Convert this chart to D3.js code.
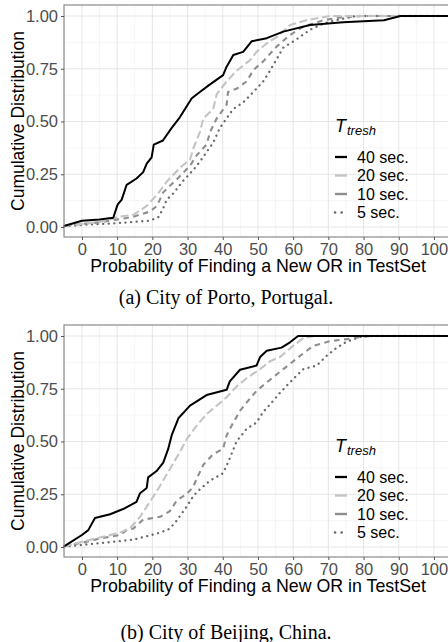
<!DOCTYPE html>
<html><head><meta charset="utf-8">
<script src="https://cdn.jsdelivr.net/npm/d3@7"></script>
<style>body{margin:0;background:#fff}svg{display:block}</style>
</head><body>
<script>
// ---- data ----
const seriesNames = ["40 sec.", "20 sec.", "10 sec.", "5 sec."];
const xTicks = [0,10,20,30,40,50,60,70,80,90,100];
const yTicks = [0,0.25,0.5,0.75,1];
const yTickLabels = ["0.00","0.25","0.50","0.75","1.00"];
const captions = ["(a) City of Porto, Portugal.", "(b) City of Beijing, China."];

// Porto
const porto40x = [-5.1,0,5,8.9,10,10.3,11.3,12.7,15.5,17.4,18.4,19.8,20.4,23,25.5,27.8,31.2,33.5,35.9,40.1,41.1,43,45.8,48.2,52.5,57.2,64.8,74.2,85.8,90.5,105];
const porto40p = [0.005,0.03,0.035,0.044,0.10,0.11,0.13,0.20,0.23,0.26,0.30,0.33,0.39,0.41,0.47,0.52,0.61,0.64,0.67,0.72,0.76,0.815,0.83,0.88,0.895,0.926,0.957,0.97,0.98,1.0,1.0];
const porto20x = [-5.1,0,5,10.8,14.6,18.4,21.7,24.1,27.8,30.7,31.6,33.5,34.5,37.3,38.3,41.1,43.9,47.7,49.6,52.5,55.3,59.1,63.8,70.5,105];
const porto20p = [0.005,0.015,0.024,0.049,0.057,0.10,0.16,0.215,0.28,0.32,0.37,0.45,0.515,0.56,0.63,0.69,0.74,0.79,0.83,0.87,0.90,0.957,0.98,1.0,1.0];
const porto10x = [-5.1,0,5,12.7,14.6,19.3,21.3,23.1,26.9,30.7,32.6,35.4,36.4,38.3,41.1,41.5,43.9,46.8,48.7,51.5,55.3,59.1,62.9,68.6,74.2,80,105];
const porto10p = [0.005,0.015,0.022,0.043,0.049,0.073,0.10,0.165,0.225,0.29,0.34,0.39,0.45,0.515,0.58,0.64,0.655,0.69,0.744,0.785,0.855,0.91,0.95,0.98,0.995,1.0,1.0];
const porto5x = [-5.1,0.3,9.9,19.3,21.7,23,24.1,26,28.8,31.6,33.5,35.4,37.3,39.2,41.1,43,45.8,48.7,51.5,53.4,57.2,61,64.8,68.8,72,78,105];
const porto5p = [0.003,0.01,0.018,0.03,0.047,0.085,0.13,0.16,0.22,0.27,0.31,0.355,0.40,0.47,0.515,0.56,0.59,0.64,0.69,0.74,0.85,0.89,0.935,0.965,0.98,1.0,1.0];

// Beijing
const beijing40x = [-5.1,0,1.8,3.7,8,11.7,15.5,16.5,18.4,18.8,21.2,23.1,24.5,25.5,27.4,30.7,35.4,41.1,42,44.9,49.6,50.6,52.5,56.7,59.1,61.4,105];
const beijing40p = [0.003,0.057,0.08,0.137,0.155,0.18,0.214,0.255,0.28,0.33,0.36,0.40,0.465,0.53,0.61,0.67,0.72,0.745,0.785,0.84,0.86,0.90,0.93,0.945,0.97,1.0,1.0];
const beijing20x = [-5.1,0,5.1,10.8,13.6,16.5,19.3,22.2,25,27.8,29.7,32.6,35.4,38.3,41.1,43.9,46.8,50.6,53.4,56.2,60,62.9,66,105];
const beijing20p = [0.003,0.025,0.045,0.068,0.088,0.143,0.214,0.29,0.37,0.45,0.51,0.575,0.63,0.67,0.71,0.76,0.80,0.843,0.88,0.90,0.953,0.99,1.0,1.0];
const beijing10x = [-5.1,0,5.1,10.8,12.7,14.6,17.4,22.2,25,26.9,29.7,31.6,32.6,34.5,37.3,40.1,41.1,43,44.9,46.8,49.6,52.5,57.2,61.9,65.7,70.5,75.2,79.2,82,105];
const beijing10p = [0.003,0.02,0.04,0.057,0.08,0.088,0.13,0.143,0.17,0.22,0.25,0.285,0.324,0.39,0.44,0.465,0.53,0.59,0.645,0.685,0.74,0.78,0.843,0.905,0.953,0.976,0.985,0.995,1.0,1.0];
const beijing5x = [-5.1,0,5.1,14.6,21.2,24.1,25,26.9,29.7,31.6,32.6,36.4,40.1,42,43.9,46.8,49.6,51.5,53.4,56.2,60,62.9,66.7,69.5,72.4,75.2,77.3,80,105];
const beijing5p = [0.002,0.01,0.018,0.035,0.063,0.08,0.088,0.125,0.19,0.24,0.26,0.315,0.35,0.42,0.50,0.56,0.59,0.64,0.675,0.73,0.796,0.843,0.86,0.906,0.945,0.973,0.985,1.0,1.0];

// ---- styles ----
const colors = ["#000000","#C4C4C4","#8E8E8E","#6A6A6A"];
const dashes = [null,"8,3.5","5.5,4.5","0.1,5.5"];
const widths = [2,2.1,2.1,2.3];
const caps = ["butt","butt","butt","round"];

const W = 448, H = 642;
const svg = d3.select("body").append("svg").attr("width",W).attr("height",H);
const SANS = "'Liberation Sans', Arial, sans-serif";

function panel(top, xs, ps, caption, capY){
  const left = 64, right = 452, bottom = top + 232;
  const x = d3.scaleLinear().domain([-5.1,105]).range([left, left + 110.1*3.52]);
  const y = d3.scaleLinear().domain([0,1]).range([top+222, top+11]);
  const g = svg.append("g");
  const xMinor = d3.range(-5,106,10), yMinor = d3.range(0.125,1.01,0.25);
  g.selectAll(null).data(xMinor).enter().append("line")
    .attr("x1",d=>x(d)).attr("x2",d=>x(d)).attr("y1",top).attr("y2",bottom)
    .attr("stroke","#F2F2F2").attr("stroke-width",0.8);
  g.selectAll(null).data(yMinor).enter().append("line")
    .attr("x1",left).attr("x2",right).attr("y1",d=>y(d)).attr("y2",d=>y(d))
    .attr("stroke","#F2F2F2").attr("stroke-width",0.8);
  g.selectAll(null).data(xTicks).enter().append("line")
    .attr("x1",d=>x(d)).attr("x2",d=>x(d)).attr("y1",top).attr("y2",bottom)
    .attr("stroke","#E6E6E6").attr("stroke-width",1);
  g.selectAll(null).data(yTicks).enter().append("line")
    .attr("x1",left).attr("x2",right).attr("y1",d=>y(d)).attr("y2",d=>y(d))
    .attr("stroke","#E6E6E6").attr("stroke-width",1);
  const line = d3.line().x(d=>x(d[0])).y(d=>y(d[1]));
  [3,2,1,0].forEach(i=>{
    const pts = xs[i].map((v,k)=>[v, ps[i][k]]);
    g.append("path").attr("d",line(pts)).attr("fill","none")
      .attr("stroke",colors[i]).attr("stroke-width",widths[i])
      .attr("stroke-dasharray",dashes[i]).attr("stroke-linecap",caps[i])
      .attr("stroke-linejoin","round");
  });
  g.append("rect").attr("x",left).attr("y",top).attr("width",right-left).attr("height",bottom-top)
    .attr("fill","none").attr("stroke","#8A8A8A").attr("stroke-width",1.2);
  const xa = g.append("g").attr("transform",`translate(0,${bottom})`)
    .call(d3.axisBottom(x).tickValues(xTicks).tickSize(3).tickPadding(3));
  xa.select(".domain").remove();
  xa.selectAll("line").attr("stroke","#555");
  xa.selectAll("text").attr("fill","#4D4D4D").attr("font-size","16.5px").attr("font-family",SANS);
  const ya = g.append("g").attr("transform",`translate(${left},0)`)
    .call(d3.axisLeft(y).tickValues(yTicks).tickFormat((d,i)=>yTickLabels[i]).tickSize(3).tickPadding(3));
  ya.select(".domain").remove();
  ya.selectAll("line").attr("stroke","#555");
  ya.selectAll("text").attr("fill","#4D4D4D").attr("font-size","16.5px").attr("font-family",SANS);
  g.append("text").attr("x",258).attr("y",bottom+35).attr("text-anchor","middle")
    .attr("font-family",SANS).attr("font-size","17.8px")
    .text("Probability of Finding a New OR in TestSet");
  g.append("text").attr("transform",`translate(24,${(top+bottom)/2}) rotate(-90)`)
    .attr("text-anchor","middle").attr("font-family",SANS).attr("font-size","17.5px")
    .text("Cumulative Distribution");
  const lt = g.append("text").attr("x",335).attr("y",top+127)
    .attr("font-family",SANS).attr("font-style","italic");
  lt.append("tspan").attr("font-size","18px").text("T");
  lt.append("tspan").attr("font-size","13px").attr("dy",3).attr("dx",1).text("tresh");
  seriesNames.forEach((n,i)=>{
    const by = top + 157.5 + i*18.5;
    g.append("line").attr("x1",335).attr("x2",347).attr("y1",by-5.5).attr("y2",by-5.5)
      .attr("stroke",colors[i]).attr("stroke-width",widths[i]+0.3)
      .attr("stroke-dasharray",i===3?"0.1,6.5":null).attr("stroke-linecap",caps[i]);
    g.append("text").attr("x",357).attr("y",by)
      .attr("font-family",SANS).attr("font-size","16px").text(n);
  });
  svg.append("text").attr("x",226).attr("y",capY).attr("text-anchor","middle")
    .attr("font-family","'Liberation Serif', 'Times New Roman', serif").attr("font-size","20px")
    .text(caption);
}

panel(5, [porto40x,porto20x,porto10x,porto5x], [porto40p,porto20p,porto10p,porto5p], captions[0], 304);
panel(325, [beijing40x,beijing20x,beijing10x,beijing5x], [beijing40p,beijing20p,beijing10p,beijing5p], captions[1], 639);
</script>
</body></html>
